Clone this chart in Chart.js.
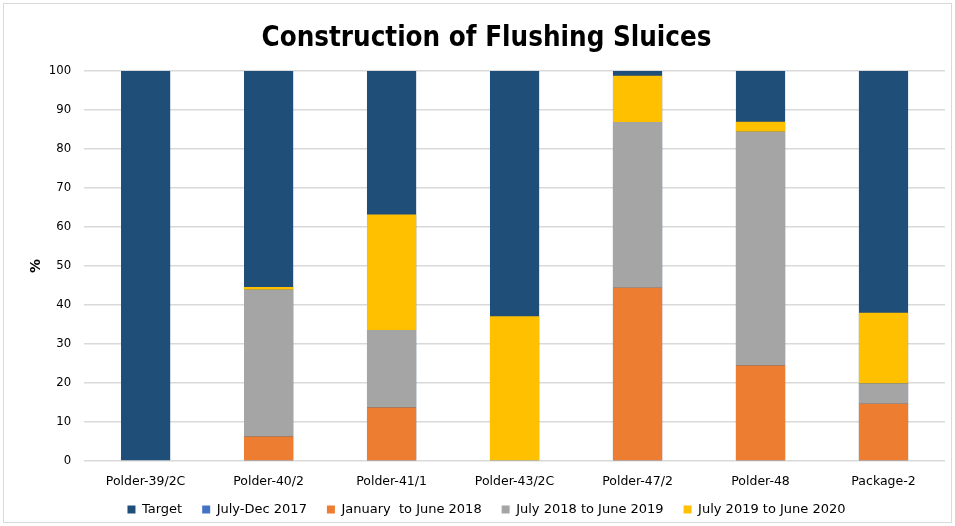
<!DOCTYPE html>
<html>
<head>
<meta charset="utf-8">
<script src="https://cdn.jsdelivr.net/npm/chart.js@4/dist/chart.umd.min.js"></script>
<style>
  html, body { margin: 0; padding: 0; background: #fff; }
  canvas { display: block; }
</style>
</head>
<body>
<canvas id="chart" width="955" height="526"></canvas>
<script>
const labels = ['Polder-39/2C', 'Polder-40/2', 'Polder-41/1', 'Polder-43/2C', 'Polder-47/2', 'Polder-48', 'Package-2']

// % progress per period (stacked), target is 100 everywhere
const target = [100, 100, 100, 100, 100, 100, 100]
const julDec2017 = [0, 0, 0, 0, 0, 0, 0]
const janJun2018 = [0, 6.3, 13.7, 0, 44.4, 24.5, 14.7]
const jul18Jun19 = [0, 37.6, 19.9, 0, 42.5, 59.9, 5.2]
const jul19Jun20 = [0, 0.7, 29.6, 37.1, 11.9, 2.6, 18.1]

const yTicks = [0, 10, 20, 30, 40, 50, 60, 70, 80, 90, 100]

const font = "'DejaVu Sans', sans-serif"
const titleFont = "'DejaVu Sans Condensed', 'DejaVu Sans', sans-serif"
const legendLift = 11

const frame = {
  id: 'frame',
  afterInit(chart) {
    // legend sits closer to the axis labels than its item padding allows
    const lg = chart.legend
    const fit = lg.fit
    lg.fit = function () {
      fit.call(this)
      this.height -= legendLift
    }
  },
  afterLayout(chart) {
    chart.legend.top -= legendLift
  },
  beforeDraw(chart) {
    const ctx = chart.ctx
    ctx.save()
    ctx.fillStyle = '#fff'
    ctx.fillRect(0, 0, chart.width, chart.height)
    ctx.strokeStyle = '#d9d9d9'
    ctx.lineWidth = 1
    ctx.strokeRect(3.5, 3.5, chart.width - 7, chart.height - 7)
    ctx.restore()
  }
}

function bar(label, data, color, stack, order) {
  return {
    label: label,
    data: data,
    backgroundColor: color,
    borderWidth: 0,
    stack: stack,
    order: order,
    grouped: false,
    barPercentage: 0.4,
    categoryPercentage: 1
  }
}

new Chart(document.getElementById('chart'), {
  type: 'bar',
  data: {
    labels: labels,
    datasets: [
      bar('Target', target, '#1F4E79', 't', 1),
      bar('July-Dec 2017', julDec2017, '#4472C4', 'p', 0),
      bar('January  to June 2018', janJun2018, '#ED7D31', 'p', 0),
      bar('July 2018 to June 2019', jul18Jun19, '#A5A5A5', 'p', 0),
      bar('July 2019 to June 2020', jul19Jun20, '#FFC000', 'p', 0)
    ]
  },
  options: {
    responsive: false,
    animation: false,
    layout: { padding: { left: 28, right: 10, top: 8, bottom: 0 } },
    plugins: {
      title: {
        display: true,
        text: 'Construction of Flushing Sluices',
        color: '#000',
        font: { family: titleFont, size: 27.5, weight: 'bold' },
        padding: { top: 14, bottom: 16 }
      },
      legend: {
        position: 'bottom',
        labels: {
          color: '#000',
          font: { family: font, size: 13 },
          boxWidth: 8,
          boxHeight: 8,
          padding: 20,
          sort: (a, b) => a.datasetIndex - b.datasetIndex
        }
      },
      tooltip: { enabled: false }
    },
    scales: {
      x: {
        stacked: true,
        grid: { display: false },
        border: { display: false },
        ticks: { color: '#000', font: { family: font, size: 12.5 }, maxRotation: 0, padding: 5 }
      },
      y: {
        stacked: true,
        min: 0,
        max: 100,
        afterBuildTicks: axis => { axis.ticks = yTicks.map(v => ({ value: v })) },
        grid: { color: '#d9d9d9', lineWidth: 1.5, drawTicks: false },
        border: { display: false },
        ticks: { color: '#000', font: { family: titleFont, size: 13 }, padding: 13 },
        title: {
          display: true,
          text: '%',
          color: '#000',
          font: { family: font, size: 14, weight: 'bold' },
          padding: { top: 0, bottom: -9 }
        }
      }
    }
  },
  plugins: [frame]
})
</script>
</body>
</html>
